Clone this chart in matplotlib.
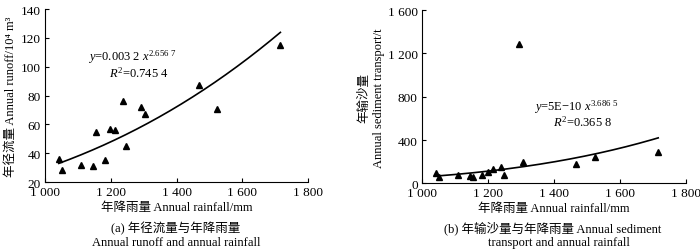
import numpy as np
import matplotlib
matplotlib.use('Agg')
import matplotlib.pyplot as plt

plt.rcParams['font.family'] = ['Liberation Serif', 'Noto Sans CJK SC', 'DejaVu Sans']
plt.rcParams['mathtext.fontset'] = 'custom'
plt.rcParams['mathtext.rm'] = 'Liberation Serif'
plt.rcParams['mathtext.it'] = 'Liberation Serif:italic'
plt.rcParams['font.size'] = 9.5

# 年降雨量 (mm)
rainfall = [1042, 1052, 1108, 1145, 1156, 1181, 1199, 1214, 1238, 1247, 1293, 1305, 1468, 1523, 1716]
# 年径流量 (10^4 m3)
runoff = [36, 28, 32, 31, 55, 35, 57, 56, 76, 45, 72, 67, 87, 71, 115]
# 年输沙量 (t)
sediment = [95, 55, 75, 70, 55, 75, 105, 130, 150, 75, 1290, 195, 175, 240, 290]

# 幂函数拟合参数 y = a x^b
runoff_a, runoff_b = 0.00316e-4, 2.6567
sed_a, sed_b = 5e-10, 3.6865

x_ticks = [1000, 1200, 1400, 1600, 1800]
x_ticklabels = ['1 000', '1 200', '1 400', '1 600', '1 800']
runoff_ticks = [20, 40, 60, 80, 100, 120, 140]
sed_ticks = [0, 400, 800, 1200, 1600]
sed_ticklabels = ['0', '400', '800', '1 200', '1 600']

fs = 9
fig = plt.figure(figsize=(7, 2.51), dpi=100)
ax1 = fig.add_axes([0.0643, 0.2709, 0.3757, 0.689])
ax2 = fig.add_axes([0.6029, 0.2657, 0.377, 0.690])

xx = np.linspace(min(rainfall), max(rainfall), 200)

for ax in (ax1, ax2):
    ax.spines['top'].set_visible(False)
    ax.spines['right'].set_visible(False)
    ax.tick_params(direction='in', length=3, width=0.8, labelsize=9.5, pad=3)
    ax.set_xlim(1000, 1800)
    ax.set_xticks(x_ticks)
    ax.set_xticklabels(x_ticklabels)
    ax.set_xlabel('年降雨量 Annual rainfall/mm', fontsize=fs, labelpad=2)

# (a)
ax1.plot(rainfall, runoff, '^', color='black', markersize=4.5)
ax1.plot(xx, runoff_a * xx ** runoff_b, color='black', lw=1.2)
ax1.set_ylim(20, 140)
ax1.set_yticks(runoff_ticks)
ax1.set_ylabel('年径流量 Annual runoff/10⁴ m³', fontsize=fs, labelpad=3)
ax1.text(1265, 107.5, r'$\mathit{y}$=0.003 2 $\mathit{x}^{2.656\ 7}$', ha='center', va='center', fontsize=fs)
ax1.text(1286, 96, r'$\mathit{R}^2$=0.745 4', ha='center', va='center', fontsize=fs)
fig.text(0.2514, 0.088, '(a) 年径流量与年降雨量', ha='center', va='center', fontsize=fs)
fig.text(0.2514, 0.032, 'Annual runoff and annual rainfall', ha='center', va='center', fontsize=fs)

# (b)
ax2.plot(rainfall, sediment, '^', color='black', markersize=4.5)
ax2.plot(xx, sed_a * xx ** sed_b, color='black', lw=1.2)
ax2.set_ylim(0, 1600)
ax2.set_yticks(sed_ticks)
ax2.set_yticklabels(sed_ticklabels)
ax2.set_ylabel('年输沙量\nAnnual sediment transport/t', fontsize=fs, labelpad=2, linespacing=1.25)
ax2.text(1467, 710, r'$\mathit{y}$=5E$-$10 $\mathit{x}^{3.686\ 5}$', ha='center', va='center', fontsize=fs)
ax2.text(1488, 570, r'$\mathit{R}^2$=0.365 8', ha='center', va='center', fontsize=fs)
fig.text(0.79, 0.088, '(b) 年输沙量与年降雨量 Annual sediment', ha='center', va='center', fontsize=fs)
fig.text(0.798, 0.032, 'transport and annual rainfall', ha='center', va='center', fontsize=fs)

fig.savefig('out.png', dpi=100)
